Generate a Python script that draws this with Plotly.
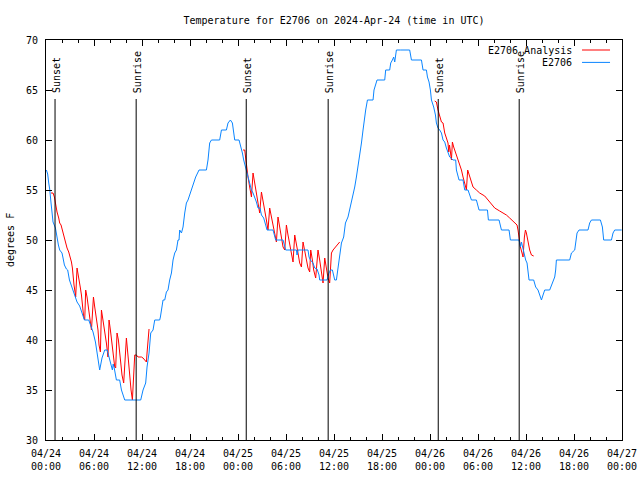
import pandas as pd
import plotly.graph_objects as go

BASE = pd.Timestamp("2024-04-24 00:00")

# Observed temperature (E2706): hours since 04/24 00:00 UTC, degrees F
obs_hours = [0.05, 0.21, 0.34, 0.46, 0.63, 0.75, 0.88, 1.18, 1.38, 1.55, 1.71, 2.0, 2.13, 2.3, 2.55, 2.71, 2.93,
             3.25, 3.68, 3.88, 4.21, 4.38, 4.63, 4.8, 5.34, 5.55, 5.88, 6.18, 6.38, 6.59, 6.71, 7.0, 7.34, 7.65,
             7.75, 7.96, 8.18, 8.3, 8.4, 8.53, 8.8, 9.21, 9.43, 9.84, 11.84, 12.13, 12.46, 12.63, 12.88, 13.09,
             13.38, 13.59, 14.21, 14.3, 14.63, 14.84, 15.05, 15.25, 15.46, 15.68, 15.88, 16.09, 16.3, 16.5, 16.63,
             16.71, 16.93, 17.13, 17.34, 17.55, 17.75, 18.18, 18.46, 18.71, 19.13, 20.05, 20.25, 20.46, 20.68,
             21.71, 21.93, 22.55, 22.75, 23.05, 23.3, 23.59, 24.13, 24.3, 24.55, 24.71, 25.05, 25.25, 25.46,
             25.68, 25.88, 26.09, 26.3, 26.5, 26.75, 26.93, 27.21, 27.46, 27.63, 28.38, 28.59, 28.71, 29.63,
             29.84, 29.96, 31.3, 31.38, 31.5, 32.75, 32.88, 33.05, 33.38, 33.59, 33.88, 34.13, 34.21, 35.13,
             35.38, 35.55, 35.8, 35.96, 36.09, 36.3, 36.5, 36.71, 36.93, 37.21, 37.43, 37.75, 38.05, 38.3, 38.59,
             38.8, 39.0, 39.21, 39.43, 39.63, 39.75, 39.96, 40.18, 40.88, 41.0, 41.21, 41.38, 42.34, 42.46, 42.96,
             43.09, 43.3, 43.46, 43.59, 43.8, 44.34, 45.46, 45.68, 46.93, 47.13, 47.55,
             47.68, 47.88, 48.05, 48.18, 48.46, 48.68, 48.8, 49.0, 49.21, 49.43, 49.63, 49.84, 50.05, 50.25,
             50.46, 50.88, 51.21, 51.3, 51.5, 51.63, 52.13, 52.25, 52.34, 52.75, 52.96, 53.18, 53.8, 54.0, 54.13,
             55.18, 55.3, 56.63, 56.71, 56.93, 57.88, 58.05, 59.13, 59.21, 59.3, 59.43, 59.59, 59.71, 59.84,
             59.96, 60.13, 60.25, 60.38, 60.96, 61.21, 61.5, 61.71, 61.93, 62.13, 62.34, 62.96, 63.18, 63.38,
             63.59, 63.71, 63.8, 65.46, 65.68, 66.09, 66.21, 66.38, 66.63, 67.75, 67.96, 68.18, 69.3, 69.55,
             69.71, 70.68, 70.88, 71.09, 71.96]
obs_temps = [57, 56.6, 55.7, 55.1, 53.7, 52.3, 51.8, 51.2, 50, 49.5, 49, 48.7, 48.2, 47.5, 47.1, 47, 46,
             45.3, 44.2, 43.8, 43.4, 43, 42.5, 42, 42, 41.5, 40.8, 39.8, 38.7, 37.8, 37, 38.2, 39, 39,
             38.7, 38, 37.3, 37, 37.6, 37.2, 36, 36, 35, 34, 34, 35, 35.7, 37.3, 38.7, 40.7,
             41, 42, 42, 42.3, 44, 44, 44.8, 45, 46, 46.7, 48, 48.7, 49, 50, 50,
             51, 50.7, 51.3, 52.7, 53.7, 54, 55, 55.7, 56.3, 57, 57, 58, 59.7, 60,
             60, 61, 61, 61.7, 62, 61.7, 60, 60, 59.5, 58.7, 58, 57, 56.3, 55.7,
             55, 54.7, 54.3, 53.8, 53.2, 53.2, 52.5, 52.2, 51.5, 51, 51, 50.5, 50, 50,
             49.5, 49, 49, 48.5, 49, 49, 48.3, 48, 47.7, 47.2, 47.1, 46.5, 46, 46,
             46.7, 47, 47, 46.5, 46, 46, 47.3, 48.7, 49.7, 50.3, 51.7, 52.3, 53.3, 54.3, 55.3,
             56.3, 57.3, 58.7, 59.7, 61, 62, 63, 64, 64, 65, 65.7, 66, 66, 67, 67,
             67.7, 68, 68.3, 67.8, 69, 69, 69, 68, 68, 67, 67,
             66.3, 65.8, 65, 64, 63.3, 62.5, 61.7, 61.2, 61, 60.7, 60, 59.8, 59.2, 58.8,
             58.3, 58, 58, 57, 56.5, 56, 56, 55.5, 55, 55, 54.5, 54, 54, 53.5, 53,
             53, 52, 52, 51.7, 51, 51, 50, 50, 49.7, 49.3, 49.8, 49.3, 49, 48.3,
             48, 47.7, 47, 46, 46, 45.3, 45, 44.5, 44, 44.5, 45, 45, 45.5, 45.8,
             46.3, 47, 48, 48, 48.7, 49, 49.7, 50.7, 51, 51, 51.7, 52, 52, 51.3,
             50, 50, 50.7, 51, 51]

# Analysis (E2706 Analysis), three night segments
ana1_hours = [0.63, 0.88, 1.05, 1.18, 1.38, 1.59, 1.71, 1.88, 2.13, 2.3, 2.43, 2.63, 2.84, 3.05, 3.18, 3.3,
              3.38, 3.5, 3.63, 3.71, 3.88, 4.0, 4.13, 4.3, 4.43, 4.55, 4.71, 4.84, 4.96, 5.13, 5.25, 5.46,
              5.68, 5.93, 6.09, 6.3, 6.5, 6.63, 6.8, 6.93, 7.13, 7.34, 7.55, 7.75, 7.88, 8.05, 8.3, 8.46,
              8.59, 8.71, 8.88, 9.05, 9.21, 9.38, 9.5, 9.71, 10.05, 10.3, 10.46, 10.63, 10.8, 11.09, 11.3,
              11.5, 11.93, 12.13, 12.34, 12.55, 12.63, 12.75, 12.88]
ana1_temps = [54.7, 54.7, 54.3, 53.5, 52.8, 52.2, 51.7, 51.5, 50.7, 50.3, 49.8, 49.2, 48.8, 48.2, 47.8, 47.2,
              46.3, 45.5, 44.8, 44.3, 47.2, 46.7, 46, 45.2, 44.5, 43.5, 42.3, 42, 45, 44.3, 43.3, 42.3,
              41, 44.3, 43.3, 42.3, 41, 39.5, 38.8, 43, 42, 40.7, 39.7, 38.3, 42, 41, 39.3, 38,
              37.3, 37.2, 40.7, 40, 38.7, 37.3, 36.5, 35.7, 40.2, 38, 36.3, 35, 34, 38.5, 38.5,
              38.3, 38.3, 38.2, 38, 37.8, 38.7, 40.2, 41.1]
ana2_hours = [24.63, 24.84, 24.96, 25.05, 25.25, 25.46, 25.68, 25.88, 26.09, 26.3, 26.5, 26.71, 26.93, 27.13,
              27.34, 27.55, 27.75, 27.96, 28.18, 28.38, 28.59, 28.8, 29.0, 29.21, 29.43, 29.63, 29.84, 30.05,
              30.25, 30.46, 30.68, 30.88, 31.09, 31.3, 31.5, 31.71, 31.93, 32.13, 32.34, 32.55, 32.75, 32.96,
              33.09, 33.3, 33.46, 33.71, 34.0, 34.21, 34.43, 34.63, 34.84, 35.05, 35.25, 35.46, 35.68, 35.88,
              36.09, 36.3, 36.5, 36.71]
ana2_temps = [59, 59, 58.2, 57.5, 56.3, 55.3, 54.3, 56.7, 55.7, 54.3, 53.3, 52.7, 54.8, 54,
              53, 52, 51, 53.2, 52.3, 51.5, 50.5, 49.8, 52.3, 51.3, 50.3, 49.3, 49, 51.5,
              50.5, 49.7, 48.8, 47.8, 50.5, 49.7, 48.7, 47.7, 47.3, 49.8, 48.8, 48, 47.2, 46.8,
              49, 48, 47, 46.2, 49, 48, 47, 45.7, 48.2, 47, 46.2, 45.7, 48.7, 49.0,
              49.2, 49.5, 49.7, 49.8]
ana3_hours = [48.59, 48.8, 49.0, 49.21, 49.43, 49.63, 49.84, 50.05, 50.25, 50.34, 50.44, 50.68, 50.8, 50.96,
              51.21, 51.5, 51.71, 51.93, 52.13, 52.25, 52.46, 52.55, 52.71, 53.18, 53.38, 53.8, 54.21, 54.84,
              55.25, 55.68, 56.09, 56.71, 57.13, 57.55, 57.96, 58.59, 58.88, 59.0, 59.13, 59.3, 59.5, 59.63,
              59.8, 59.93, 60.05, 60.25, 60.46, 60.68, 60.96]
ana3_temps = [63.9, 63.8, 63, 62.3, 61.8, 61.7, 60.7, 60.2, 59.7, 58.8, 59.5, 58, 59.8, 59.3,
              58.7, 58, 57.7, 57, 56.3, 56, 55.3, 55, 57, 55.8, 55.3, 55, 54.7, 54.4,
              54, 53.5, 53.2, 52.9, 52.7, 52.5, 52.2, 51.7, 51.5, 51, 50.2, 49.3, 48.7, 48.3,
              50.3, 51, 50.7, 49.7, 49, 48.5, 48.4]

# Sun events (hours since 04/24 00:00 UTC)
event_names = ["Sunset", "Sunrise", "Sunset", "Sunrise", "Sunset", "Sunrise"]
event_hours = [1.13, 11.27, 25.03, 35.27, 49.03, 59.15]
event_top = 64.1

tick_hours = [0, 6, 12, 18, 24, 30, 36, 42, 48, 54, 60, 66, 72]
tick_labels = ["04/24<br>00:00", "04/24<br>06:00", "04/24<br>12:00", "04/24<br>18:00",
               "04/25<br>00:00", "04/25<br>06:00", "04/25<br>12:00", "04/25<br>18:00",
               "04/26<br>00:00", "04/26<br>06:00", "04/26<br>12:00", "04/26<br>18:00",
               "04/27<br>00:00"]

RED = "#ff0000"
BLUE = "#0a85ff"
FONT = "DejaVu Sans Mono"


def to_time(hours):
    return [BASE + pd.Timedelta(hours=h) for h in hours]


ana_x, ana_y = [], []
for hs, ts in [(ana1_hours, ana1_temps), (ana2_hours, ana2_temps), (ana3_hours, ana3_temps)]:
    if ana_x:
        ana_x.append(None)
        ana_y.append(None)
    ana_x += to_time(hs)
    ana_y += ts

fig = go.Figure()
fig.add_trace(go.Scatter(x=ana_x, y=ana_y, mode="lines", name="E2706 Analysis",
                         line=dict(color=RED, width=1), connectgaps=False))
fig.add_trace(go.Scatter(x=to_time(obs_hours), y=obs_temps, mode="lines", name="E2706",
                         line=dict(color=BLUE, width=1)))

for name, h in zip(event_names, event_hours):
    t = BASE + pd.Timedelta(hours=h)
    fig.add_shape(type="line", xref="x", yref="y", x0=t, x1=t, y0=30, y1=event_top,
                  line=dict(color="black", width=1))
    fig.add_annotation(x=t, y=event_top + 0.4, xref="x", yref="y", text=name, textangle=-90,
                       showarrow=False, xanchor="center", yanchor="bottom", xshift=1,
                       font=dict(family=FONT, size=10, color="black"))

# gnuplot-style legend (text right, sample line at right)
for i, (name, col) in enumerate([("E2706 Analysis", RED), ("E2706", BLUE)]):
    yp = 0.975 - i * 0.031
    fig.add_annotation(x=0.9167, y=yp, xref="paper", yref="paper", text=name, showarrow=False,
                       xanchor="right", yanchor="middle", font=dict(family=FONT, size=10, color="black"))
    fig.add_shape(type="line", xref="paper", yref="paper", x0=0.9306, x1=0.9792, y0=yp, y1=yp,
                  line=dict(color=col, width=1))

fig.add_annotation(x=-0.0625, y=0.5, xref="paper", yref="paper", text="degrees F", textangle=-90,
                   showarrow=False, xanchor="center", yanchor="middle",
                   font=dict(family=FONT, size=10, color="black"))

fig.update_layout(
    width=640, height=480,
    margin=dict(l=46, r=18, t=40, b=40, autoexpand=False),
    paper_bgcolor="white", plot_bgcolor="white",
    showlegend=False,
    font=dict(family=FONT, size=10, color="black"),
    title=dict(text="Temperature for E2706 on 2024-Apr-24 (time in UTC)", x=0.5, xref="paper",
               y=1 - 20 / 480, yref="container", xanchor="center", yanchor="middle",
               font=dict(family=FONT, size=10, color="black")),
)
fig.update_xaxes(
    type="date", automargin=False,
    range=[BASE, BASE + pd.Timedelta(hours=72)],
    tickvals=to_time(tick_hours), ticktext=tick_labels,
    ticks="inside", ticklen=6, tickcolor="black", tickwidth=1,
    ticklabelstandoff=4,
    minor=dict(dtick=2 * 3600 * 1000, tick0=BASE, ticks="inside", ticklen=3, tickcolor="black"),
    showline=True, linecolor="black", linewidth=1, mirror="allticks",
    showgrid=False, zeroline=False,
    tickfont=dict(family=FONT, size=10, color="black"),
)
fig.update_yaxes(
    automargin=False,
    range=[30, 70], tick0=30, dtick=5,
    ticks="inside", ticklen=6, tickcolor="black", tickwidth=1,
    ticklabelstandoff=5,
    showline=True, linecolor="black", linewidth=1, mirror="allticks",
    showgrid=False, zeroline=False,
    tickfont=dict(family=FONT, size=10, color="black"),
)

fig.write_html("out.html", config={"displayModeBar": False},
               post_script="document.body.style.margin='0';")
